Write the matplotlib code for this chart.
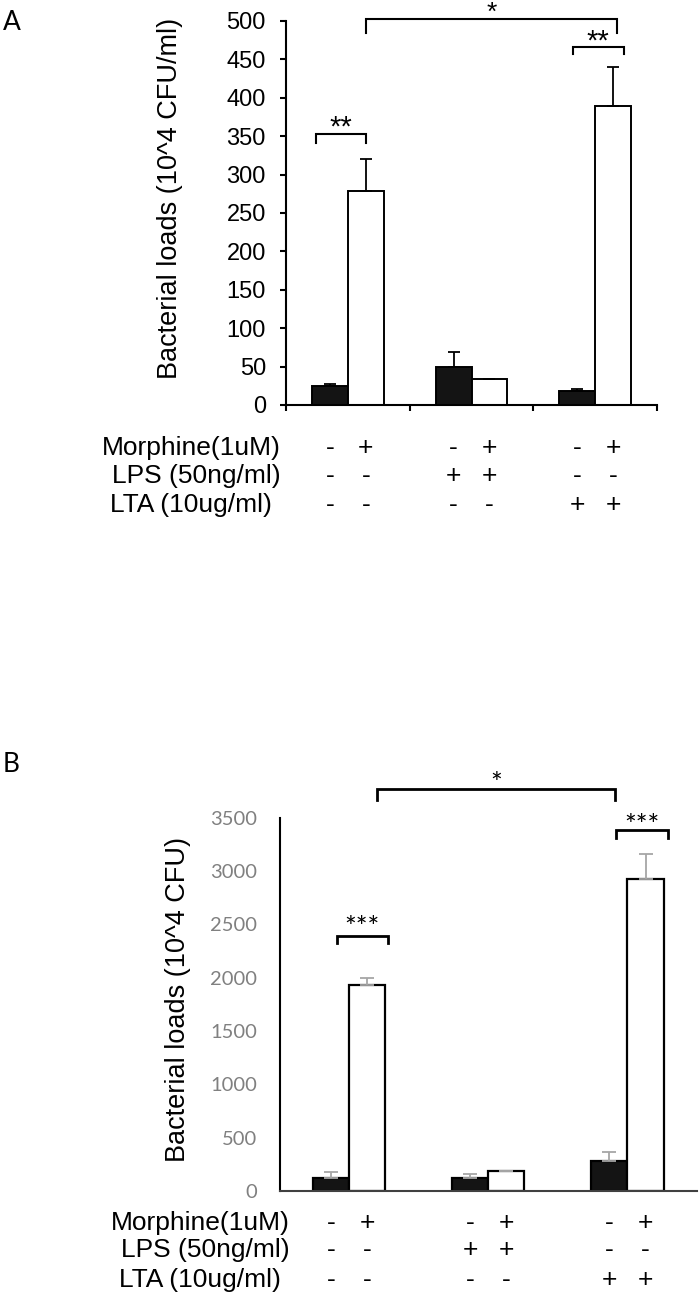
import matplotlib
matplotlib.use('Agg')
import matplotlib.pyplot as plt
import matplotlib.transforms as mtransforms
import numpy as np

# treatment rows shown under both panels
row_labels = ['Morphine(1uM)', 'LPS (50ng/ml)', 'LTA (10ug/ml)']
morphine = ['-', '+', '-', '+', '-', '+']
lps = ['-', '-', '+', '+', '-', '-']
lta = ['-', '-', '-', '-', '+', '+']

# panel A (10^4 CFU/ml)
a_black = [25, 50, 18]
a_black_err = [2, 19, 3]
a_white = [279, 34, 389]
a_white_err = [41, 0, 51]
a_ticks = [0, 50, 100, 150, 200, 250, 300, 350, 400, 450, 500]

# panel B (10^4 CFU)
b_black = [119, 119, 281]
b_black_err = [62, 40, 88]
b_white = [1931, 184, 2922]
b_white_err = [66, 3, 235]
b_ticks = [0, 500, 1000, 1500, 2000, 2500, 3000, 3500]

W, H = 700, 1299
ARIAL = 'Liberation Sans'
CALIBRI = 'Lato'


def fx(px):
    return px / W


def fy(py):
    return 1 - py / H


def bracket(ax, x0, x1, ytop, ybot, label, ylab, lw, fs, family):
    # ylab is the baseline of the stars
    ax.plot([x0, x0, x1, x1], [ybot, ytop, ytop, ybot], color='k', lw=lw, clip_on=False,
            solid_joinstyle='miter')
    ax.text((x0 + x1) / 2, ylab, label, ha='center', va='baseline', fontsize=fs,
            family=family, clip_on=False)


def bars(ax, black, black_err, white, white_err, width, ecolor, capsize, lw):
    x = np.arange(len(black))
    ax.bar(x - width / 2, black, width, color='#141414', edgecolor='k', lw=lw, zorder=2)
    ax.bar(x + width / 2, white, width, color='white', edgecolor='k', lw=lw, zorder=2)
    ax.errorbar(x - width / 2, black, yerr=[np.zeros(len(black)), black_err], fmt='none',
                ecolor=ecolor, elinewidth=1.3, capsize=capsize, capthick=1.3, zorder=3)
    ax.errorbar(x + width / 2, white, yerr=[np.zeros(len(white)), white_err], fmt='none',
                ecolor=ecolor, elinewidth=1.3, capsize=capsize, capthick=1.3, zorder=3)
    return np.column_stack([x - width / 2, x + width / 2]).ravel()


def treatment_rows(fig, ax, centers, ys, label_x, fs):
    trans = mtransforms.blended_transform_factory(ax.transData, fig.transFigure)
    for row, (lab, signs) in enumerate(zip(row_labels, [morphine, lps, lta])):
        off = -9 if row == 2 else 0
        fig.text(fx(label_x + off), fy(ys[row]), lab, ha='right', va='center',
                 fontsize=fs, family=ARIAL)
        for xc, s in zip(centers, signs):
            ax.text(xc, fy(ys[row]), s, transform=trans, ha='center', va='center',
                    fontsize=fs, family=ARIAL, clip_on=False)


fig = plt.figure(figsize=(7, 12.99), dpi=100)

# ---- panel A ----
axA = fig.add_axes([fx(286), fy(405), (657 - 286) / W, (405 - 21) / H])
centers = bars(axA, a_black, a_black_err, a_white, a_white_err, 0.29, 'k', 4.3, 1.4)
axA.set_xlim(-0.5, 2.5)
axA.set_ylim(0, 500)
axA.set_yticks(a_ticks)
axA.set_xticks([-0.5, 0.5, 1.5, 2.5])
axA.set_xticklabels([])
for s in ['top', 'right']:
    axA.spines[s].set_visible(False)
for s in ['left', 'bottom']:
    axA.spines[s].set_linewidth(1.5)
axA.tick_params(axis='both', direction='out', length=4.5, width=1.5)
axA.tick_params(axis='y', labelsize=17, pad=10)
for t in axA.get_yticklabels():
    t.set_family(ARIAL)

bracket(axA, -0.26, 0.15, 352.5, 341.5, '**', 351, 1.5, 21, ARIAL)
bracket(axA, 1.82, 2.23, 465.8, 456.6, '**', 463, 1.5, 21, ARIAL)
bracket(axA, 0.15, 2.18, 502, 484.8, '*', 502, 1.5, 19, ARIAL)

fig.text(fx(170), fy(198), 'Bacterial loads (10^4 CFU/ml)', rotation=90, ha='center',
         va='center', fontsize=19.5, family=ARIAL)
fig.text(fx(3), fy(23), 'A', ha='left', va='center', fontsize=19, family=CALIBRI)
treatment_rows(fig, axA, centers, [448, 476, 505], 281, 19)

# ---- panel B ----
axB = fig.add_axes([fx(279.5), fy(1191), (697 - 279.5) / W, (1191 - 817.7) / H])
centers = bars(axB, b_black, b_black_err, b_white, b_white_err, 0.26, '#a6a6a6', 5, 1.6)
axB.set_xlim(-0.5, 2.5)
axB.set_ylim(0, 3500)
axB.set_yticks(b_ticks)
axB.set_xticks([])
for s in ['top', 'right']:
    axB.spines[s].set_visible(False)
axB.spines['left'].set_linewidth(1.5)
axB.spines['bottom'].set_linewidth(1.5)
axB.spines['bottom'].set_color('#404040')
axB.tick_params(axis='y', length=0, labelsize=14.5, pad=16, labelcolor='#808080')
for t in axB.get_yticklabels():
    t.set_family(CALIBRI)

bracket(axB, -0.09, 0.28, 2391, 2322, '***', 2380, 2, 20, CALIBRI)
bracket(axB, 1.92, 2.29, 3384, 3306, '***', 3340, 2, 20, CALIBRI)
bracket(axB, 0.2, 1.91, 3769, 3666, '*', 3730, 2, 20, CALIBRI)

fig.text(fx(178), fy(999.5), 'Bacterial loads (10^4 CFU)', rotation=90, ha='center',
         va='center', fontsize=19.5, family=ARIAL)
fig.text(fx(3), fy(764), 'B', ha='left', va='center', fontsize=19, family=CALIBRI)
treatment_rows(fig, axB, centers, [1222.7, 1250, 1280], 290, 19)

fig.savefig('out.png', dpi=100)
